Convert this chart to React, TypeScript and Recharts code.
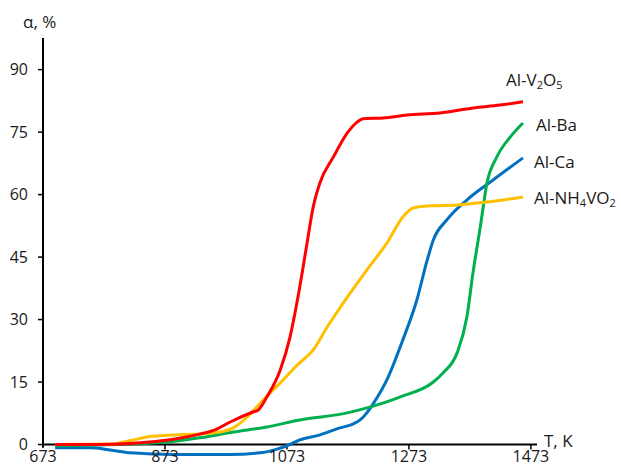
import { LineChart, Line, XAxis, YAxis, ReferenceLine } from 'recharts'

// [T, K ; alpha, %]
const AL_V2O5: [number, number][] = [
  [693, 0], [767, 0], [848, 0.6], [889, 1.3], [930, 2.5], [955, 3.5], [980, 5.4],
  [1017, 7.8], [1026, 8.3], [1040, 11.4], [1062, 17.9], [1078, 25.8], [1094, 37.8],
  [1106, 48.4], [1116, 57.0], [1127, 62.8], [1149, 69.0], [1172, 74.8], [1188, 77.4],
  [1198, 78.2], [1231, 78.4], [1270, 79.1], [1324, 79.6], [1378, 80.8], [1422, 81.5],
  [1460, 82.3],
]

const AL_NH4VO2: [number, number][] = [
  [693, 0], [783, 0.1], [821, 1.1], [848, 1.9], [886, 2.3], [930, 2.5], [963, 3.0],
  [985, 4.0], [1008, 6.6], [1034, 10.7], [1062, 14.8], [1090, 19.1], [1116, 22.7],
  [1139, 28.2], [1172, 35.4], [1204, 41.9], [1237, 48.4], [1263, 54.6], [1280, 56.8],
  [1308, 57.3], [1352, 57.5], [1401, 58.2], [1460, 59.4],
]

const AL_CA: [number, number][] = [
  [693, -0.8], [750, -0.8], [783, -1.3], [816, -2.0], [888, -2.4], [980, -2.4],
  [1029, -2.0], [1057, -1.1], [1073, -0.3], [1094, 1.1], [1127, 2.3], [1160, 4.0],
  [1181, 4.9], [1193, 5.9], [1204, 7.6], [1214, 9.7], [1239, 16.2], [1263, 25.1],
  [1286, 34.7], [1303, 44.3], [1313, 49.1], [1335, 53.9], [1368, 58.7], [1411, 63.5],
  [1460, 68.8],
]

const AL_BA: [number, number][] = [
  [693, -0.3], [816, 0.1], [889, 0.8], [930, 1.6], [985, 3.0], [1040, 4.2], [1094, 5.9],
  [1172, 7.6], [1204, 8.8], [1258, 11.4], [1313, 15.0], [1329, 17.2], [1352, 22.0],
  [1368, 30.6], [1378, 41.2], [1390, 52.2], [1401, 62.8], [1417, 69.0], [1439, 73.8],
  [1460, 77.2],
]

const X_TICKS = [673, 873, 1073, 1273, 1473]
const Y_TICKS = [0, 15, 30, 45, 60, 75, 90]

const toPoints = (rows: [number, number][]) => rows.map(([t, a]) => ({ t, a }))

const FONT = "'Open Sans', sans-serif"
const tickStyle = { fontSize: 16, fill: '#1a1a1a', fontFamily: FONT }

const labelStyle: React.CSSProperties = {
  position: 'absolute',
  fontFamily: FONT,
  fontSize: 17,
  lineHeight: 1,
  color: '#1a1a1a',
  whiteSpace: 'nowrap',
}

const subStyle: React.CSSProperties = { fontSize: 11, verticalAlign: -3, lineHeight: 1 }

export default function App() {
  return (
    <div style={{ position: 'absolute', left: 0, top: 0, width: 621, height: 467, background: '#fff' }}>
      <LineChart width={621} height={467} margin={{ top: 38, right: 84, bottom: 0, left: 0 }}>
        <XAxis
          type="number"
          dataKey="t"
          domain={[673, 1483]}
          ticks={X_TICKS}
          interval={0}
          axisLine={false}
          tickLine={false}
          tickSize={0}
          tickMargin={-6}
          height={10}
          tick={tickStyle}
        />
        <YAxis
          type="number"
          domain={[-3, 97.6]}
          ticks={Y_TICKS}
          interval={0}
          width={43}
          axisLine={false}
          tickLine={{ stroke: '#000', strokeWidth: 1.5 }}
          tickSize={5}
          tickMargin={10}
          tick={tickStyle}
        />
        <ReferenceLine y={0} stroke="#000" strokeWidth={2} />
        <ReferenceLine
          segment={[{ x: 673, y: -0.8 }, { x: 673, y: 97.6 }]}
          stroke="#000"
          strokeWidth={2}
        />
        {X_TICKS.slice(1).map((t) => (
          <ReferenceLine
            key={t}
            segment={[{ x: t, y: 0 }, { x: t, y: -1.2 }]}
            stroke="#000"
            strokeWidth={1.5}
          />
        ))}
        <Line data={toPoints(AL_CA)} dataKey="a" type="monotone" stroke="#0070C0" strokeWidth={3} dot={false} isAnimationActive={false} />
        <Line data={toPoints(AL_BA)} dataKey="a" type="monotone" stroke="#00B050" strokeWidth={3} dot={false} isAnimationActive={false} />
        <Line data={toPoints(AL_NH4VO2)} dataKey="a" type="monotone" stroke="#FFC000" strokeWidth={3} dot={false} isAnimationActive={false} />
        <Line data={toPoints(AL_V2O5)} dataKey="a" type="monotone" stroke="#FF0000" strokeWidth={3} dot={false} isAnimationActive={false} />
      </LineChart>

      <div style={{ ...labelStyle, left: 23, top: 13 }}>α, %</div>
      <div style={{ ...labelStyle, left: 544, top: 432 }}>T, K</div>
      <div style={{ ...labelStyle, left: 506, top: 71 }}>
        Al-V<span style={subStyle}>2</span>O<span style={subStyle}>5</span>
      </div>
      <div style={{ ...labelStyle, left: 536, top: 116 }}>Al-Ba</div>
      <div style={{ ...labelStyle, left: 534, top: 153 }}>Al-Ca</div>
      <div style={{ ...labelStyle, left: 534, top: 189 }}>
        Al-NH<span style={subStyle}>4</span>VO<span style={subStyle}>2</span>
      </div>
    </div>
  )
}
